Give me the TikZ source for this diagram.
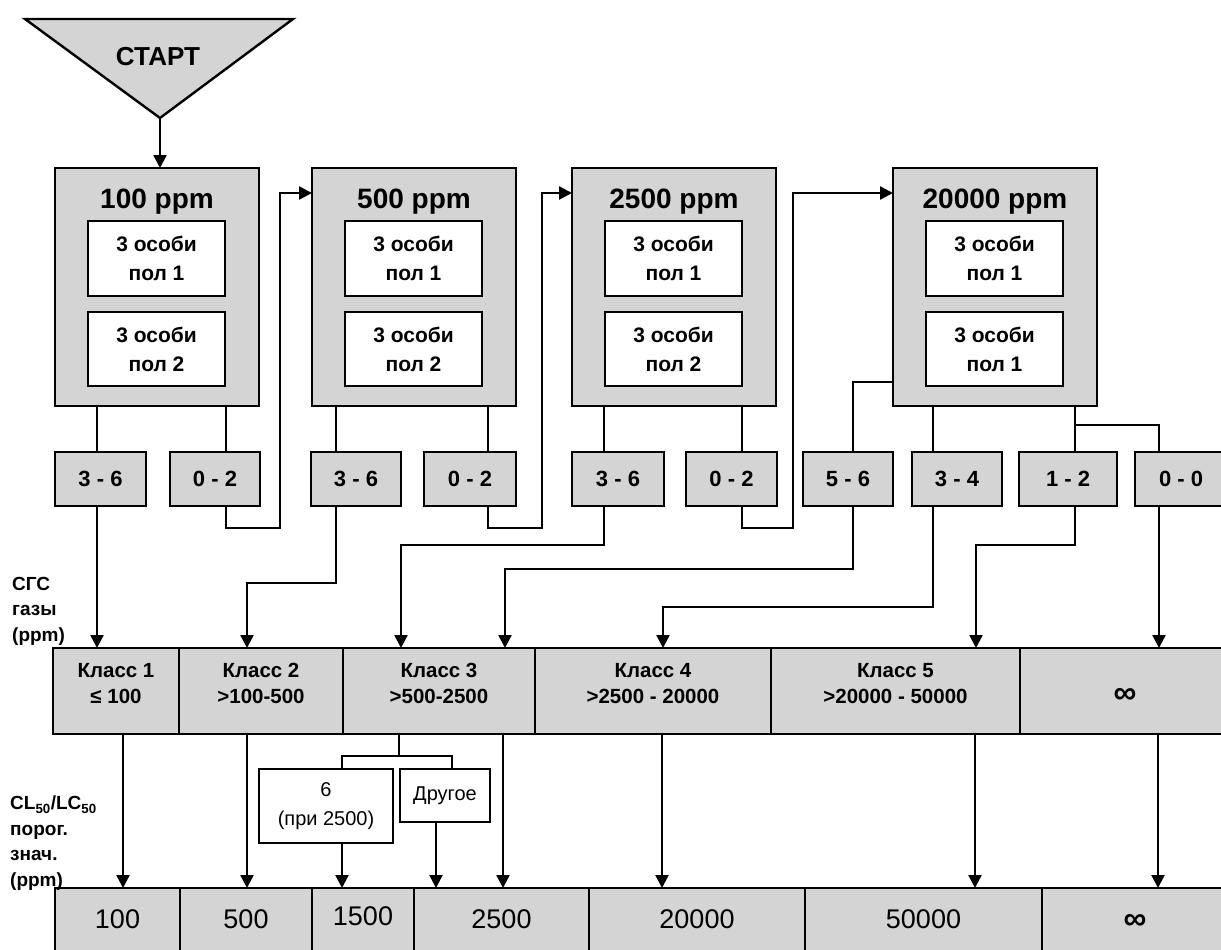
\documentclass[tikz,border=0pt]{standalone}
\usepackage{fontspec}
\setmainfont{Liberation Sans}
\usetikzlibrary{arrows.meta,calc}
\definecolor{boxgray}{RGB}{212,212,212}
\begin{document}
\begin{tikzpicture}[x=1pt,y=-1pt,
 ln/.style={line width=2.3pt},
 arr/.style={line width=2.3pt,-{Triangle[length=13pt,width=13pt]}},
 gbox/.style={draw,line width=2.6pt,fill=boxgray,inner sep=0pt,outer sep=0pt,anchor=north west},
 ibox/.style={draw,line width=1.2pt,fill=white,inner sep=0pt,outer sep=0pt,anchor=north west,align=center,font=\bfseries\fontsize{21}{29}\selectfont},
 ttl/.style={anchor=base,font=\bfseries\fontsize{28}{32}\selectfont,inner sep=0pt},
 obox/.style={gbox,minimum height=54pt,font=\bfseries\fontsize{22}{26}\selectfont},
 kcell/.style={gbox,minimum height=86pt},
 ktxt/.style={align=center,font=\bfseries\fontsize{20.5}{26}\selectfont,inner sep=0pt},
 ncell/.style={gbox,minimum height=80pt},
 ntxt/.style={font=\fontsize{27}{30}\selectfont,inner sep=0pt},
 inf/.style={font=\bfseries\fontsize{32}{32}\selectfont,inner sep=0pt},
 wbox/.style={draw,line width=1.8pt,fill=white,inner sep=0pt,outer sep=0pt,anchor=north west,align=center,font=\fontsize{20}{29}\selectfont},
 side/.style={anchor=north west,align=left,font=\bfseries\fontsize{19}{25.5}\selectfont,inner sep=0pt}
]
\useasboundingbox[fill=white] (0,0) rectangle (1221,950);

% start
\draw[line width=2.4pt,fill=boxgray] (25,19) -- (293,19) -- (160,118) -- cycle;
\node[font=\bfseries\fontsize{26}{30}\selectfont] (start) at (158,57) {СТАРТ};
\coordinate (apex) at (160,118);

% concentration boxes
\node[gbox,minimum width=204pt,minimum height=238pt] (b1) at (55,168) {};
\node[ttl] (t1) at (157,208) {100 ppm};
\node[ibox,minimum width=137pt,minimum height=75pt] (b1a) at (88,221) {3 особи\\пол 1};
\node[ibox,minimum width=137pt,minimum height=74pt] (b1b) at (88,312) {3 особи\\пол 2};

\node[gbox,minimum width=204pt,minimum height=238pt] (b2) at (312,168) {};
\node[ttl] (t2) at (414,208) {500 ppm};
\node[ibox,minimum width=137pt,minimum height=75pt] (b2a) at (345,221) {3 особи\\пол 1};
\node[ibox,minimum width=137pt,minimum height=74pt] (b2b) at (345,312) {3 особи\\пол 2};

\node[gbox,minimum width=204pt,minimum height=238pt] (b3) at (572,168) {};
\node[ttl] (t3) at (674,208) {2500 ppm};
\node[ibox,minimum width=137pt,minimum height=75pt] (b3a) at (605,221) {3 особи\\пол 1};
\node[ibox,minimum width=137pt,minimum height=74pt] (b3b) at (605,312) {3 особи\\пол 2};

\node[gbox,minimum width=204pt,minimum height=238pt] (b4) at (893,168) {};
\node[ttl] (t4) at (995,208) {20000 ppm};
\node[ibox,minimum width=137pt,minimum height=75pt] (b4a) at (926,221) {3 особи\\пол 1};
\node[ibox,minimum width=137pt,minimum height=74pt] (b4b) at (926,312) {3 особи\\пол 1};

\draw[arr] (apex) -- (b1.north -| apex);

% outcome boxes
\node[obox,minimum width=91pt] (o1) at (55,452) {3 - 6};
\node[obox,minimum width=90pt] (o2) at (170,452) {0 - 2};
\node[obox,minimum width=90pt] (o3) at (311,452) {3 - 6};
\node[obox,minimum width=92pt] (o4) at (424,452) {0 - 2};
\node[obox,minimum width=92pt] (o5) at (572,452) {3 - 6};
\node[obox,minimum width=91pt] (o6) at (686,452) {0 - 2};
\node[obox,minimum width=90pt] (o7) at (803,452) {5 - 6};
\node[obox,minimum width=90pt] (o8) at (912,452) {3 - 4};
\node[obox,minimum width=98pt] (o9) at (1019,452) {1 - 2};
\node[obox,minimum width=92pt] (o10) at (1135,452) {0 - 0};

% class row
\node[kcell,minimum width=126pt] (k1) at (53,648) {};
\node[kcell,minimum width=164pt] (k2) at (179,648) {};
\node[kcell,minimum width=192pt] (k3) at (343,648) {};
\node[kcell,minimum width=236pt] (k4) at (535,648) {};
\node[kcell,minimum width=249pt] (k5) at (771,648) {};
\node[kcell,minimum width=212pt] (k6) at (1020,648) {};
\node[ktxt] (kt1) at ($(k1.north)+(0,37)$) {\strut Класс 1\\\strut ≤ 100};
\node[ktxt] (kt2) at ($(k2.north)+(0,37)$) {\strut Класс 2\\\strut >100-500};
\node[ktxt] (kt3) at ($(k3.north)+(0,37)$) {\strut Класс 3\\\strut >500-2500};
\node[ktxt] (kt4) at ($(k4.north)+(0,37)$) {\strut Класс 4\\\strut >2500 - 20000};
\node[ktxt] (kt5) at ($(k5.north)+(0,37)$) {\strut Класс 5\\\strut >20000 - 50000};
\node[inf] (kt6) at (1125,696) {∞};

% bottom row
\node[ncell,minimum width=125pt] (n1) at (55,888) {};
\node[ncell,minimum width=132pt] (n2) at (180,888) {};
\node[ncell,minimum width=102pt] (n3) at (312,888) {};
\node[ncell,minimum width=175pt] (n4) at (414,888) {};
\node[ncell,minimum width=216pt] (n5) at (589,888) {};
\node[ncell,minimum width=237pt] (n6) at (805,888) {};
\node[ncell,minimum width=190pt] (n7) at (1042,888) {};
\node[ntxt] (nt1) at ($(n1.north)+(0,31)$) {100};
\node[ntxt] (nt2) at ($(n2.north)+(0,31)$) {500};
\node[ntxt] (nt3) at ($(n3.north)+(0,28)$) {1500};
\node[ntxt] (nt4) at ($(n4.north)+(0,31)$) {2500};
\node[ntxt] (nt5) at ($(n5.north)+(0,31)$) {20000};
\node[ntxt] (nt6) at ($(n6.north)+(0,31)$) {50000};
\node[inf] (nt7) at (1135,922) {∞};

% special boxes
\node[wbox,minimum width=134pt,minimum height=74pt] (six) at (259,769) {6\\(при 2500)};
\node[wbox,minimum width=90pt,minimum height=53pt] (oth) at (400,769) {Другое};

% side labels
\node[side] (lab1) at (12,577) {СГС\\газы\\(ppm)};
\node[side] (lab2) at (10,796) {CL\textsubscript{50}/LC\textsubscript{50}\\порог.\\знач.\\(ppm)};

% coordinates
\coordinate (x1) at (97,0);
\coordinate (x2) at (226,0);
\coordinate (x3) at (336,0);
\coordinate (x4) at (488,0);
\coordinate (x5) at (604,0);
\coordinate (x6) at (742,0);
\coordinate (x7) at (853,0);
\coordinate (x8) at (933,0);
\coordinate (x9) at (1075,0);
\coordinate (x10) at (1159,0);
\coordinate (r1) at (280,528);
\coordinate (r2) at (542,528);
\coordinate (r3) at (793,528);
\coordinate (ya) at (0,193);
\coordinate (c3) at (247,583);
\coordinate (c5) at (401,545);
\coordinate (c7) at (505,569);
\coordinate (c8) at (663,607);
\coordinate (c9) at (976,545);
\coordinate (yb) at (0,425);
\coordinate (y56) at (0,382);

% box -> outcome
\draw[ln] (b1.south -| x1) -- (o1.north -| x1);
\draw[ln] (b1.south -| x2) -- (o2.north -| x2);
\draw[ln] (b2.south -| x3) -- (o3.north -| x3);
\draw[ln] (b2.south -| x4) -- (o4.north -| x4);
\draw[ln] (b3.south -| x5) -- (o5.north -| x5);
\draw[ln] (b3.south -| x6) -- (o6.north -| x6);
\draw[ln] (b4.west |- y56) -| (o7.north -| x7);
\draw[ln] (b4.south -| x8) -- (o8.north -| x8);
\draw[ln] (b4.south -| x9) -- (o9.north -| x9);
\draw[ln] (yb -| x9) -| (o10.north -| x10);

% escalation loops
\draw[arr] (o2.south -| x2) |- (r1) |- (b2.west |- ya);
\draw[arr] (o4.south -| x4) |- (r2) |- (b3.west |- ya);
\draw[arr] (o6.south -| x6) |- (r3) |- (b4.west |- ya);

% outcome -> class
\draw[arr] (o1.south -| x1) -- (k1.north -| x1);
\draw[arr] (o3.south -| x3) |- (c3) -- (c3 |- k2.north);
\draw[arr] (o5.south -| x5) |- (c5) -- (c5 |- k3.north);
\draw[arr] (o7.south -| x7) |- (c7) -- (c7 |- k3.north);
\draw[arr] (o8.south -| x8) |- (c8) -- (c8 |- k4.north);
\draw[arr] (o9.south -| x9) |- (c9) -- (c9 |- k5.north);
\draw[arr] (o10.south -| x10) -- (k6.north -| x10);

% class -> thresholds
\coordinate (z1) at (123,0);
\coordinate (z2) at (247,0);
\coordinate (z3) at (503,0);
\coordinate (z4) at (662,0);
\coordinate (z5) at (975,0);
\coordinate (z6) at (1158,0);
\coordinate (zo) at (436,0);
\coordinate (kb) at (399,756);
\coordinate (bl) at (342,756);
\coordinate (br) at (452,756);
\draw[arr] (k1.south -| z1) -- (n1.north -| z1);
\draw[arr] (k2.south -| z2) -- (n2.north -| z2);
\draw[arr] (k3.south -| z3) -- (n4.north -| z3);
\draw[arr] (k4.south -| z4) -- (n5.north -| z4);
\draw[arr] (k5.south -| z5) -- (n6.north -| z5);
\draw[arr] (k6.south -| z6) -- (n7.north -| z6);
\draw[ln] (k3.south -| kb) -- (kb);
\draw[ln] (six.north -| bl) -- (bl) -- (br) -- (oth.north -| br);
\draw[arr] (six.south -| bl) -- (n3.north -| bl);
\draw[arr] (oth.south -| zo) -- (n4.north -| zo);
\end{tikzpicture}
\end{document}
